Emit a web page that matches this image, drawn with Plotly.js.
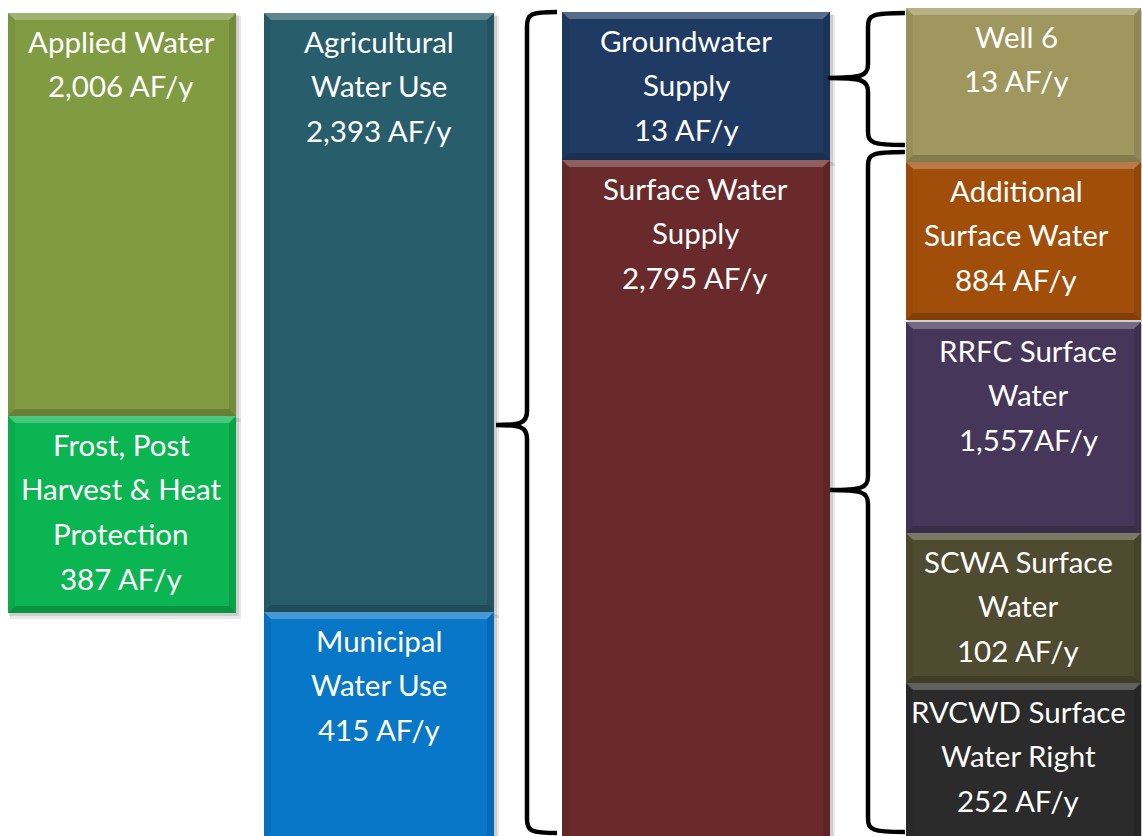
<!DOCTYPE html>
<html>
<head>
<meta charset="utf-8">
<script src="https://cdn.plot.ly/plotly-3.0.1.min.js"></script>
<style>
  html, body { margin: 0; padding: 0; background: #ffffff; }
  #chart { width: 1142px; height: 836px; }
</style>
</head>
<body>
<div id="chart"></div>
<script>
// ---------- DATA ----------
const blockNames = [
  "Applied Water", "Frost, Post Harvest & Heat Protection",
  "Agricultural Water Use", "Municipal Water Use",
  "Groundwater Supply", "Surface Water Supply",
  "Well 6", "Additional Surface Water", "RRFC Surface Water",
  "SCWA Surface Water", "RVCWD Surface Water Right"
];
const labelLines = [
  ["Applied Water"],
  ["Frost, Post", "Harvest & Heat", "Protection"],
  ["Agricultural", "Water Use"],
  ["Municipal", "Water Use"],
  ["Groundwater", "Supply"],
  ["Surface Water", "Supply"],
  ["Well 6"],
  ["Additional", "Surface Water"],
  ["RRFC Surface", "Water"],
  ["SCWA Surface", "Water"],
  ["RVCWD Surface", "Water Right"]
];
const valuesAFy = [2006, 387, 2393, 415, 13, 2795, 13, 884, 1557, 102, 252];
const unitSep   = [" ", " ", " ", " ", " ", " ", " ", " ", "", " ", " "];
const unit = "AF/y";

// ---------- LAYOUT (diagram geometry, not data) ----------
const colLeft  = [8, 264, 562, 906];
const colRight = [236, 494, 830, 1141];
const blockCol = [0, 0, 1, 1, 2, 2, 3, 3, 3, 3, 3];
const blockTop = [13, 416, 13, 612, 12, 160, 8, 162, 322, 533, 683];
const blockBot = [416, 613, 612, 845, 160, 845, 162, 320, 533, 683, 845];
const labelX   = [121, 121, 379, 379, 686, 695, 1016, 1016, 1028, 1018, 1018];
const blockColors = ["#809B42", "#0BB552", "#285E6B", "#0877C8", "#1F3B63", "#6A2A2B",
                     "#A0975F", "#A24E0B", "#46375A", "#4F4B30", "#2B2B2B"];

const braceX    = [527, 868, 868];
const braceTop  = [12, 13, 152];
const braceBot  = [833, 145, 832];
const braceTipX = [496, 828, 830];
const braceTipY = [425, 78, 490];
const braceEndX = [557, 905, 905];

const W = 1142, H = 836;
const textTopOffset = 28, lineGap = 44.8, fontSize = 29.5;

// ---------- BUILD ----------
const L = blockCol.map(c => colLeft[c]);
const R = blockCol.map(c => colRight[c]);

const shapes = [];
// drop shadows
for (let i = 0; i < blockNames.length; i++) {
  shapes.push({type: "rect", layer: "below", xref: "x", yref: "y",
    x0: L[i] + 2, x1: R[i] + 5, y0: blockTop[i] + 3, y1: blockBot[i] + 6,
    fillcolor: "rgba(0,0,0,0.09)", line: {width: 0}});
  shapes.push({type: "rect", layer: "below", xref: "x", yref: "y",
    x0: L[i] + 1, x1: R[i] + 3, y0: blockTop[i] + 2, y1: blockBot[i] + 3,
    fillcolor: "rgba(0,0,0,0.11)", line: {width: 0}});
}
// bevels
const b = 7;
for (let i = 0; i < blockNames.length; i++) {
  const l = L[i], r = R[i], t = blockTop[i], bt = blockBot[i];
  shapes.push({type: "path", layer: "above", xref: "x", yref: "y",
    path: `M${l},${t} L${r},${t} L${r - b},${t + b} L${l + b},${t + b} Z`,
    fillcolor: "rgba(255,255,255,0.25)", line: {width: 0}});
  shapes.push({type: "path", layer: "above", xref: "x", yref: "y",
    path: `M${l},${bt} L${r},${bt} L${r - b},${bt - b} L${l + b},${bt - b} Z`,
    fillcolor: "rgba(0,0,0,0.18)", line: {width: 0}});
  shapes.push({type: "path", layer: "above", xref: "x", yref: "y",
    path: `M${l},${t} L${l + b},${t + b} L${l + b},${bt - b} L${l},${bt} Z`,
    fillcolor: "rgba(0,0,0,0.05)", line: {width: 0}});
  shapes.push({type: "path", layer: "above", xref: "x", yref: "y",
    path: `M${r},${t} L${r - b},${t + b} L${r - b},${bt - b} L${r},${bt} Z`,
    fillcolor: "rgba(0,0,0,0.10)", line: {width: 0}});
}
// braces
for (let k = 0; k < braceX.length; k++) {
  const x = braceX[k], t = braceTop[k], bo = braceBot[k], tx = braceTipX[k], ty = braceTipY[k], ex = braceEndX[k];
  const c = 14;
  const p = `M${ex},${t} C${x + 4},${t} ${x},${t + 2} ${x},${t + c} ` +
            `L${x},${ty - c} C${x},${ty - 2} ${x - 6},${ty} ${tx},${ty} ` +
            `C${x - 6},${ty} ${x},${ty + 2} ${x},${ty + c} ` +
            `L${x},${bo - c} C${x},${bo - 2} ${x + 4},${bo} ${ex},${bo}`;
  shapes.push({type: "path", layer: "above", xref: "x", yref: "y", path: p,
    line: {color: "#000000", width: 4.5}});
}

// annotations
const annotations = [];
for (let i = 0; i < blockNames.length; i++) {
  const lines = labelLines[i].concat([valuesAFy[i].toLocaleString("en-US") + unitSep[i] + unit]);
  lines.forEach((txt, j) => {
    annotations.push({xref: "x", yref: "y", x: labelX[i], y: blockTop[i] + textTopOffset + j * lineGap,
      text: txt, showarrow: false, xanchor: "center", yanchor: "middle",
      font: {family: "Lato, 'Open Sans', sans-serif", size: fontSize, color: "#ffffff"}});
  });
}

const trace = {
  type: "bar",
  x: L.map((l, i) => (l + R[i]) / 2),
  width: L.map((l, i) => R[i] - l),
  base: blockTop,
  y: blockTop.map((t, i) => blockBot[i] - t),
  text: blockNames,
  textposition: "none",
  marker: {color: blockColors, line: {width: 0}},
  hoverinfo: "text",
  showlegend: false
};

const layout = {
  width: W, height: H,
  margin: {l: 0, r: 0, t: 0, b: 0},
  paper_bgcolor: "#ffffff", plot_bgcolor: "#ffffff",
  barmode: "overlay",
  xaxis: {range: [0, W], visible: false, fixedrange: true},
  yaxis: {range: [H, 0], visible: false, fixedrange: true},
  shapes: shapes,
  annotations: annotations,
  showlegend: false
};

Plotly.newPlot("chart", [trace], layout, {displayModeBar: false, staticPlot: true});
</script>
</body>
</html>
